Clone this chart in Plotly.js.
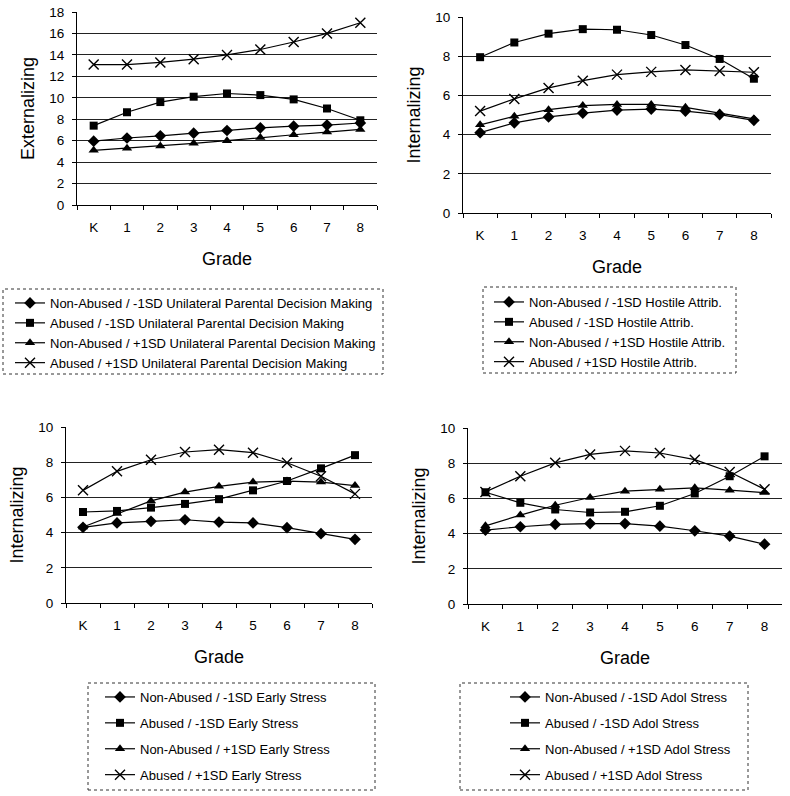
<!DOCTYPE html>
<html>
<head>
<meta charset="utf-8">
<script src="https://cdn.plot.ly/plotly-3.0.1.min.js"></script>
<style>html,body{margin:0;padding:0;background:#fff;}#chart{width:790px;height:796px;}</style>
</head>
<body>
<div id="chart"></div>
<script>
const grades = ['K','1','2','3','4','5','6','7','8'];

// Panel 1: Externalizing, Unilateral Parental Decision Making
const upNonAbusedMinus = [5.95, 6.25, 6.45, 6.7, 6.95, 7.2, 7.35, 7.45, 7.65];
const upAbusedMinus    = [7.4, 8.65, 9.6, 10.1, 10.4, 10.25, 9.85, 9.0, 7.9];
const upNonAbusedPlus  = [5.1, 5.3, 5.5, 5.75, 6.0, 6.3, 6.55, 6.8, 7.05];
const upAbusedPlus     = [13.1, 13.1, 13.3, 13.6, 14.0, 14.5, 15.2, 16.0, 17.0];

// Panel 2: Internalizing, Hostile Attrib.
const haNonAbusedMinus = [4.1, 4.6, 4.9, 5.1, 5.25, 5.3, 5.2, 5.02, 4.73];
const haAbusedMinus    = [7.95, 8.7, 9.15, 9.38, 9.35, 9.08, 8.57, 7.86, 6.85];
const haNonAbusedPlus  = [4.5, 4.93, 5.27, 5.48, 5.54, 5.54, 5.39, 5.1, 4.8];
const haAbusedPlus     = [5.2, 5.82, 6.38, 6.75, 7.06, 7.2, 7.3, 7.25, 7.18];

// Panel 3: Internalizing, Early Stress
const esNonAbusedMinus = [4.3, 4.55, 4.64, 4.73, 4.6, 4.55, 4.28, 3.94, 3.62];
const esAbusedMinus    = [5.17, 5.23, 5.42, 5.63, 5.9, 6.4, 6.93, 7.65, 8.4];
const esNonAbusedPlus  = [4.32, 5.08, 5.8, 6.3, 6.63, 6.87, 6.93, 6.87, 6.67];
const esAbusedPlus     = [6.4, 7.48, 8.14, 8.58, 8.71, 8.54, 7.97, 7.2, 6.2];

// Panel 4: Internalizing, Adol Stress
const asNonAbusedMinus = [4.2, 4.39, 4.52, 4.57, 4.57, 4.42, 4.16, 3.86, 3.4];
const asAbusedMinus    = [6.35, 5.75, 5.37, 5.2, 5.24, 5.58, 6.28, 7.26, 8.39];
const asNonAbusedPlus  = [4.44, 5.05, 5.61, 6.05, 6.41, 6.52, 6.6, 6.47, 6.33];
const asAbusedPlus     = [6.37, 7.26, 8.02, 8.5, 8.7, 8.58, 8.2, 7.5, 6.52];

const seriesNames = {
  up: ['Non-Abused / -1SD Unilateral Parental Decision Making','Abused / -1SD Unilateral Parental Decision Making','Non-Abused / +1SD Unilateral Parental Decision Making','Abused / +1SD Unilateral Parental Decision Making'],
  ha: ['Non-Abused / -1SD Hostile Attrib.','Abused / -1SD Hostile Attrib.','Non-Abused / +1SD Hostile Attrib.','Abused / +1SD Hostile Attrib.'],
  es: ['Non-Abused / -1SD Early Stress','Abused / -1SD Early Stress','Non-Abused / +1SD Early Stress','Abused / +1SD Early Stress'],
  as: ['Non-Abused / -1SD Adol Stress','Abused / -1SD Adol Stress','Non-Abused / +1SD Adol Stress','Abused / +1SD Adol Stress']
};

const W = 790, H = 796;
const px = v => v / W;
const py = v => 1 - v / H;

const markers = [
  {symbol:'diamond', size:9, color:'#000'},
  {symbol:'square', size:8, color:'#000'},
  {symbol:'triangle-up', size:9, color:'#000'},
  {symbol:'x-thin-open', size:10, color:'#000', line:{width:1.4, color:'#000'}}
];

const panels = [
  {key:'up', data:[upNonAbusedMinus, upAbusedMinus, upNonAbusedPlus, upAbusedPlus], xa:'x', ya:'y', leg:'legend'},
  {key:'ha', data:[haNonAbusedMinus, haAbusedMinus, haNonAbusedPlus, haAbusedPlus], xa:'x2', ya:'y2', leg:'legend2'},
  {key:'es', data:[esNonAbusedMinus, esAbusedMinus, esNonAbusedPlus, esAbusedPlus], xa:'x3', ya:'y3', leg:'legend3'},
  {key:'as', data:[asNonAbusedMinus, asAbusedMinus, asNonAbusedPlus, asAbusedPlus], xa:'x4', ya:'y4', leg:'legend4'}
];

const traces = [];
panels.forEach((p) => {
  p.data.forEach((vals, i) => {
    traces.push({
      type:'scatter', mode:'lines+markers',
      x: grades, y: vals,
      xaxis: p.xa, yaxis: p.ya,
      name: seriesNames[p.key][i],
      legend: p.leg,
      legendgroup: p.key + i,
      line:{color:'#000', width:1.2},
      marker: markers[i],
      cliponaxis:false
    });
  });
});

const fontFam = '"Liberation Sans", Arial, sans-serif';

function xaxis(domain, anchor) {
  return {
    domain: domain, anchor: anchor, type:'category', range:[-0.5, 8.5],
    showgrid:false, zeroline:false, showline:true, linecolor:'#000', linewidth:1,
    ticks:'outside', tickson:'boundaries', ticklen:4, tickcolor:'#000',
    ticklabelstandoff:10,
    tickfont:{size:13.5, color:'#000', family:fontFam},
    title:{text:'Grade', font:{size:18, color:'#000', family:fontFam}, standoff:18},
    fixedrange:true
  };
}
function yaxis(domain, anchor, max, title) {
  return {
    domain: domain, anchor: anchor, range:[0, max], dtick:2, tick0:0,
    showgrid:true, gridcolor:'#222', gridwidth:1, zeroline:false,
    showline:true, linecolor:'#000', linewidth:1,
    ticks:'outside', ticklen:4, tickcolor:'#000',
    ticklabelstandoff:5,
    tickfont:{size:13.5, color:'#000', family:fontFam},
    title:{text:title, font:{size:18, color:'#000', family:fontFam}, standoff:9},
    fixedrange:true
  };
}

function legend(x, y, gap) {
  return {
    x: x, y: y, xanchor:'left', yanchor:'top',
    bgcolor:'rgba(0,0,0,0)', borderwidth:0,
    font:{size:13, color:'#000', family:fontFam},
    traceorder:'grouped', tracegroupgap: gap,
    itemclick:false, itemdoubleclick:false
  };
}

function box(x0, y0, x1, y1) {
  return {type:'rect', xref:'paper', yref:'paper', x0:px(x0), x1:px(x1), y0:py(y1), y1:py(y0),
          line:{color:'#333', width:1, dash:'dot'}, fillcolor:'rgba(0,0,0,0)'};
}

const layout = {
  width: W, height: H,
  margin:{l:0, r:0, t:0, b:0},
  paper_bgcolor:'#fff', plot_bgcolor:'#fff',
  font:{family:fontFam, color:'#000'},
  showlegend:true,
  xaxis: xaxis([px(77), px(377)], 'y'),
  yaxis: yaxis([py(205), py(12)], 'x', 18, 'Externalizing'),
  xaxis2: xaxis([px(463), px(771)], 'y2'),
  yaxis2: yaxis([py(213), py(17)], 'x2', 10, 'Internalizing'),
  xaxis3: xaxis([px(66), px(372)], 'y3'),
  yaxis3: yaxis([py(603), py(427)], 'x3', 10, 'Internalizing'),
  xaxis4: xaxis([px(468), px(782)], 'y4'),
  yaxis4: yaxis([py(604), py(428)], 'x4', 10, 'Internalizing'),
  legend:  legend(px(10), py(288), 0),
  legend2: legend(px(489), py(287), 0),
  legend3: legend(px(100), py(682), 6),
  legend4: legend(px(505), py(682), 6),
  shapes:[ box(3, 289, 383, 374), box(483, 287, 736, 373), box(88, 683, 375, 790), box(460, 683, 748, 790) ]
};

Plotly.newPlot('chart', traces, layout, {staticPlot:true, displayModeBar:false});
</script>
</body>
</html>
